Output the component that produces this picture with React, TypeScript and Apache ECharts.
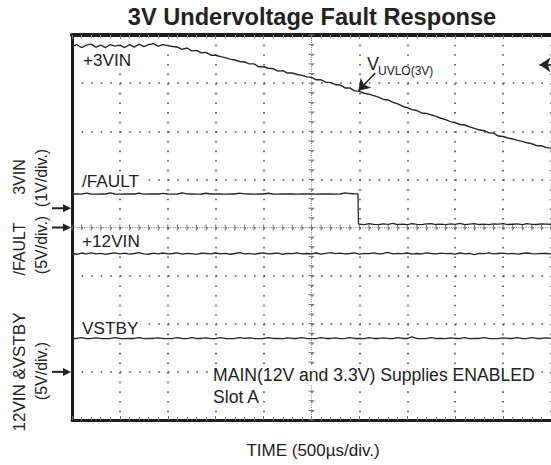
import React, { useEffect, useRef } from "react";
import * as echarts from "echarts";

// ---------- texts ----------
const TITLE = "3V Undervoltage Fault Response";
const X_TITLE = "TIME (500µs/div.)";
const NOTE_LINE_1 = "MAIN(12V and 3.3V) Supplies ENABLED";
const NOTE_LINE_2 = "Slot A";

// ---------- scope settings ----------
const US_PER_DIV = 500;
const X_DIVS = 10;
const Y_DIVS = 8;
const SAMPLE_US = 50;
const TIME_US = Array.from({ length: (US_PER_DIV * X_DIVS) / SAMPLE_US + 1 }, (_, i) => i * SAMPLE_US);

// channel ground positions (divisions from bottom) and scales (V/div)
const CH3_GROUND_DIV = 4.4;
const CH3_V_PER_DIV = 1;
const FAULT_GROUND_DIV = 4;
const FAULT_V_PER_DIV = 5;
const CH12_GROUND_DIV = 1;
const CH12_V_PER_DIV = 5;

// ---------- measured traces (volts, one value per 50 µs) ----------
const V_3VIN = [
  3.36, 3.40, 3.34, 3.39, 3.41, 3.35, 3.39, 3.34, 3.40, 3.37,
  3.39, 3.34, 3.40, 3.35, 3.41, 3.36, 3.40, 3.42, 3.37, 3.40,
  3.38, 3.36, 3.35, 3.30, 3.33, 3.27, 3.28, 3.23, 3.24, 3.18,
  3.18, 3.15, 3.13, 3.10, 3.08, 3.05, 3.04, 3.00, 3.00, 2.94,
  2.94, 2.91, 2.90, 2.85, 2.86, 2.81, 2.81, 2.78, 2.76, 2.73,
  2.72, 2.67, 2.67, 2.62, 2.61, 2.57, 2.56, 2.50, 2.50, 2.44,
  2.43, 2.39, 2.37, 2.34, 2.31, 2.26, 2.25, 2.20, 2.17, 2.12,
  2.09, 2.05, 2.03, 1.98, 1.97, 1.94, 1.91, 1.87, 1.84, 1.80,
  1.78, 1.74, 1.73, 1.69, 1.66, 1.63, 1.61, 1.57, 1.56, 1.50,
  1.49, 1.46, 1.44, 1.41, 1.39, 1.36, 1.34, 1.30, 1.30, 1.26,
  1.25,
];

// /FAULT: high until the edge, low afterwards
const FAULT_EDGE_US = 2985;
const FAULT_HIGH_V = [
  3.48, 3.49, 3.47, 3.58, 3.48, 3.47, 3.49, 3.48, 3.60, 3.48,
  3.47, 3.49, 3.48, 3.48, 3.58, 3.47, 3.48, 3.49, 3.48, 3.55,
  3.48, 3.47, 3.48, 3.59, 3.49, 3.48, 3.47, 3.48, 3.56, 3.48,
  3.49, 3.48, 3.47, 3.48, 3.48, 3.57, 3.49, 3.48, 3.47, 3.48,
  3.48, 3.56, 3.48, 3.47, 3.49, 3.48, 3.48, 3.47, 3.48, 3.49,
  3.48, 3.47, 3.48, 3.49, 3.48, 3.47, 3.48, 3.60, 3.53, 3.50,
];
const FAULT_LOW_V = [
  0.36, 0.30, 0.41, 0.33, 0.29, 0.38, 0.33, 0.42, 0.31, 0.36,
  0.30, 0.40, 0.33, 0.29, 0.37, 0.41, 0.31, 0.36, 0.30, 0.38,
  0.33, 0.42, 0.30, 0.36, 0.40, 0.31, 0.34, 0.29, 0.38, 0.35,
  0.41, 0.31, 0.34, 0.37, 0.30, 0.40, 0.33, 0.31, 0.38, 0.35,
  0.34,
];

const V_12VIN = [
  12.30, 12.22, 12.35, 12.26, 12.37, 12.25, 12.32, 12.21, 12.30, 12.36,
  12.26, 12.34, 12.23, 12.30, 12.38, 12.27, 12.22, 12.33, 12.26, 12.35,
  12.25, 12.30, 12.37, 12.23, 12.32, 12.28, 12.21, 12.34, 12.30, 12.25,
  12.35, 12.26, 12.32, 12.22, 12.30, 12.38, 12.26, 12.32, 12.23, 12.30,
  12.36, 12.25, 12.30, 12.34, 12.22, 12.32, 12.28, 12.37, 12.25, 12.30,
  12.26, 12.35, 12.23, 12.32, 12.38, 12.28, 12.34, 12.25, 12.30, 12.36,
  12.23, 12.32, 12.28, 12.37, 12.26, 12.30, 12.42, 12.25, 12.32, 12.28,
  12.35, 12.23, 12.30, 12.26, 12.37, 12.30, 12.25, 12.34, 12.28, 12.32,
  12.23, 12.35, 12.26, 12.30, 12.18, 12.32, 12.28, 12.36, 12.25, 12.30,
  12.34, 12.26, 12.32, 12.23, 12.30, 12.35, 12.28, 12.25, 12.32, 12.30,
  12.27,
];

const V_VSTBY = [
  3.47, 3.47, 3.57, 3.45, 3.47, 3.54, 3.47, 3.45, 3.47, 3.55,
  3.47, 3.45, 3.47, 3.47, 3.56, 3.45, 3.47, 3.47, 3.53, 3.47,
  3.45, 3.47, 3.57, 3.47, 3.45, 3.55, 3.47, 3.47, 3.54, 3.45,
  3.47, 3.56, 3.47, 3.45, 3.47, 3.55, 3.47, 3.54, 3.47, 3.45,
  3.47, 3.57, 3.47, 3.47, 3.45, 3.54, 3.47, 3.47, 3.55, 3.47,
  3.45, 3.47, 3.56, 3.47, 3.47, 3.54, 3.45, 3.47, 3.57, 3.47,
  3.47, 3.45, 3.55, 3.47, 3.47, 3.54, 3.47, 3.45, 3.56, 3.47,
  3.47, 3.63, 3.47, 3.45, 3.47, 3.55, 3.47, 3.47, 3.45, 3.54,
  3.47, 3.47, 3.56, 3.45, 3.47, 3.47, 3.55, 3.47, 3.45, 3.47,
  3.54, 3.47, 3.47, 3.57, 3.45, 3.47, 3.55, 3.47, 3.47, 3.54,
  3.47,
];

// annotation: UVLO threshold arrow (from label to trace) and trigger level marker
const UVLO_ARROW_FROM = [3165, 2.81];
const UVLO_ARROW_TO = [2990, 2.44];
const TRIGGER_LEVEL_V = 2.98;
const TRIGGER_MARK_FROM_US = 5000;
const TRIGGER_MARK_TO_US = 4880;

// ---------- layout ----------
const W = 551;
const H = 465;
const G_LEFT = 72;
const G_TOP = 35;
const G_W = 479;
const G_H = 385;
const FONT = "'Liberation Sans', Arial, Helvetica, sans-serif";
const INK = "#222";
const TRACE = "#262626";
const DOT = "#4a4a4a";

const groundY = (div: number) => G_TOP + G_H * (1 - div / Y_DIVS);

function zip(ts: number[], vs: number[]) {
  return vs.map((v, i) => [ts[i], v]);
}

function buildFault() {
  const hi = zip(TIME_US.slice(0, FAULT_HIGH_V.length), FAULT_HIGH_V);
  const loT = TIME_US.slice(TIME_US.length - FAULT_LOW_V.length);
  const lo = zip(loT, FAULT_LOW_V);
  return [
    ...hi,
    [FAULT_EDGE_US, FAULT_HIGH_V[FAULT_HIGH_V.length - 1]],
    [FAULT_EDGE_US + 4, FAULT_LOW_V[0] + 0.5],
    [FAULT_EDGE_US + 6, FAULT_LOW_V[0]],
    ...lo,
  ];
}

function label(text: string, x: number, y: number, size = 17.2, bg = true) {
  return {
    type: "text",
    x,
    y,
    z: 50,
    style: {
      text,
      fontSize: size,
      fontFamily: FONT,
      fill: INK,
      textAlign: "left",
      textVerticalAlign: "middle",
      backgroundColor: bg ? "#fff" : undefined,
      padding: bg ? [0, 2, 0, 1] : undefined,
    },
  };
}

function vlabel(text: string, x: number, y: number, size = 16) {
  return {
    type: "text",
    x,
    y,
    rotation: Math.PI / 2,
    style: {
      text,
      fontSize: size,
      fontFamily: FONT,
      fill: INK,
      textAlign: "center",
      textVerticalAlign: "middle",
    },
  };
}

function groundArrow(y: number) {
  return [
    { type: "line", shape: { x1: 52, y1: y, x2: 64, y2: y }, style: { stroke: INK, lineWidth: 2 } },
    { type: "polygon", shape: { points: [[63, y - 4], [71, y], [63, y + 4]] }, style: { fill: INK } },
  ];
}

export default function App() {
  const ref = useRef<HTMLDivElement>(null);
  useEffect(() => {
    if (!ref.current) return;
    const chart = echarts.init(ref.current, null, { renderer: "svg" });
    const xMax = US_PER_DIV * X_DIVS;

    const frameAxisX = (position: "top" | "bottom", idx: number) => ({
      type: "value",
      gridIndex: 0,
      position,
      min: 0,
      max: xMax,
      interval: US_PER_DIV,
      axisLine: { show: true, onZero: false, lineStyle: { color: "#1c1c1c", width: idx === 1 ? 4 : 3 } },
      axisTick: { show: true, inside: true, length: 4, lineStyle: { color: "#777", width: 1 } },
      minorTick: { show: true, splitNumber: 5, length: 3, lineStyle: { color: "#888", width: 1 } },
      axisLabel: { show: false },
      splitLine: idx === 0
        ? { show: true, lineStyle: { color: DOT, width: 1.6, type: [1.6, 8.03] } }
        : { show: false },
    });

    const option: any = {
      animation: false,
      backgroundColor: "#fff",
      grid: { left: G_LEFT, top: G_TOP, width: G_W, height: G_H, show: false },
      xAxis: [frameAxisX("bottom", 0), frameAxisX("top", 1)],
      yAxis: [
        {
          type: "value",
          min: 0,
          max: Y_DIVS,
          interval: 1,
          position: "left",
          axisLine: { show: true, onZero: false, lineStyle: { color: "#1c1c1c", width: 3 } },
          axisTick: { show: false },
          axisLabel: { show: false },
          splitLine: { show: true, lineStyle: { color: DOT, width: 1.6, type: [1.6, 7.98] } },
        },
        { type: "value", show: false, min: -CH3_GROUND_DIV * CH3_V_PER_DIV, max: (Y_DIVS - CH3_GROUND_DIV) * CH3_V_PER_DIV },
        { type: "value", show: false, min: -FAULT_GROUND_DIV * FAULT_V_PER_DIV, max: (Y_DIVS - FAULT_GROUND_DIV) * FAULT_V_PER_DIV },
        { type: "value", show: false, min: -CH12_GROUND_DIV * CH12_V_PER_DIV, max: (Y_DIVS - CH12_GROUND_DIV) * CH12_V_PER_DIV },
      ],
      series: [
        {
          type: "custom",
          name: "graticule",
          xAxisIndex: 0,
          yAxisIndex: 0,
          silent: true,
          z: 1,
          data: [[0, 0]],
          renderItem: (_p: any, api: any) => {
            const cx = xMax / 2;
            const cy = Y_DIVS / 2;
            const top = api.coord([cx, Y_DIVS]);
            const bot = api.coord([cx, 0]);
            const lft = api.coord([0, cy]);
            const rgt = api.coord([xMax, cy]);
            const children: any[] = [
              { type: "line", shape: { x1: top[0], y1: top[1], x2: bot[0], y2: bot[1] }, style: { stroke: "#8a8a8a", lineWidth: 1, lineDash: [1, 1.4] } },
              { type: "line", shape: { x1: lft[0], y1: lft[1], x2: rgt[0], y2: rgt[1] }, style: { stroke: "#8a8a8a", lineWidth: 1, lineDash: [1, 1.4] } },
            ];
            for (let t = 0; t <= xMax; t += US_PER_DIV / 5) {
              const p = api.coord([t, cy]);
              children.push({ type: "line", shape: { x1: p[0], y1: p[1] - 3, x2: p[0], y2: p[1] + 3 }, style: { stroke: "#777", lineWidth: 1 } });
            }
            for (let k = 0; k <= Y_DIVS * 5; k++) {
              const p = api.coord([cx, k / 5]);
              children.push({ type: "line", shape: { x1: p[0] - 3, y1: p[1], x2: p[0] + 3, y2: p[1] }, style: { stroke: "#777", lineWidth: 1 } });
            }
            return { type: "group", children };
          },
        },
        {
          type: "line",
          name: "+3VIN",
          xAxisIndex: 0,
          yAxisIndex: 1,
          data: zip(TIME_US, V_3VIN),
          showSymbol: false,
          lineStyle: { color: TRACE, width: 1.4 },
          z: 5,
          markLine: {
            silent: true,
            symbol: ["none", "arrow"],
            symbolSize: 11,
            label: { show: false },
            lineStyle: { color: INK, width: 1.6, type: "solid" },
            data: [
              [{ coord: UVLO_ARROW_FROM }, { coord: UVLO_ARROW_TO }],
              [{ coord: [TRIGGER_MARK_FROM_US, TRIGGER_LEVEL_V] }, { coord: [TRIGGER_MARK_TO_US, TRIGGER_LEVEL_V] }],
            ],
          },
        },
        {
          type: "line",
          name: "/FAULT",
          xAxisIndex: 0,
          yAxisIndex: 2,
          data: buildFault(),
          showSymbol: false,
          lineStyle: { color: TRACE, width: 1.3 },
          z: 5,
        },
        {
          type: "line",
          name: "+12VIN",
          xAxisIndex: 0,
          yAxisIndex: 3,
          data: zip(TIME_US, V_12VIN),
          showSymbol: false,
          lineStyle: { color: TRACE, width: 1.3 },
          z: 5,
        },
        {
          type: "line",
          name: "VSTBY",
          xAxisIndex: 0,
          yAxisIndex: 3,
          data: zip(TIME_US, V_VSTBY),
          showSymbol: false,
          lineStyle: { color: TRACE, width: 1.3 },
          z: 5,
        },
      ],
      graphic: [
        {
          type: "text",
          x: 312,
          y: 17,
          style: {
            text: TITLE,
            fontSize: 23.6,
            fontWeight: "bold",
            fontFamily: FONT,
            fill: INK,
            textAlign: "center",
            textVerticalAlign: "middle",
          },
        },
        {
          type: "text",
          x: 313,
          y: 450,
          style: {
            text: X_TITLE,
            fontSize: 17,
            fontFamily: FONT,
            fill: INK,
            textAlign: "center",
            textVerticalAlign: "middle",
          },
        },
        label("+3VIN", 82, 60),
        label("/FAULT", 81, 181),
        label("+12VIN", 81, 241),
        label("VSTBY", 81, 328),
        label(NOTE_LINE_1, 212, 375, 17.6),
        label(NOTE_LINE_2, 212, 397, 17.6),
        { type: "text", x: 367, y: 64, z: 50, style: { text: "V", fontSize: 18, fontFamily: FONT, fill: INK, textAlign: "left", textVerticalAlign: "middle" } },
        { type: "text", x: 378, y: 71, z: 50, style: { text: "UVLO(3V)", fontSize: 12, fontFamily: FONT, fill: INK, textAlign: "left", textVerticalAlign: "middle" } },
        vlabel("3VIN", 19, 177, 16),
        vlabel("(1V/div.)", 41, 178, 16),
        vlabel("/FAULT", 19, 249, 16),
        vlabel("(5V/div.)", 41, 245, 16),
        vlabel("12VIN &VSTBY", 19, 372, 17),
        vlabel("(5V/div.)", 41, 371, 16),
        ...groundArrow(groundY(CH3_GROUND_DIV)),
        ...groundArrow(groundY(FAULT_GROUND_DIV)),
        ...groundArrow(groundY(CH12_GROUND_DIV)),
      ],
    };
    chart.setOption(option);
    return () => chart.dispose();
  }, []);
  return <div ref={ref} style={{ position: "fixed", left: 0, top: 0, width: W, height: H, background: "#fff" }} />;
}
